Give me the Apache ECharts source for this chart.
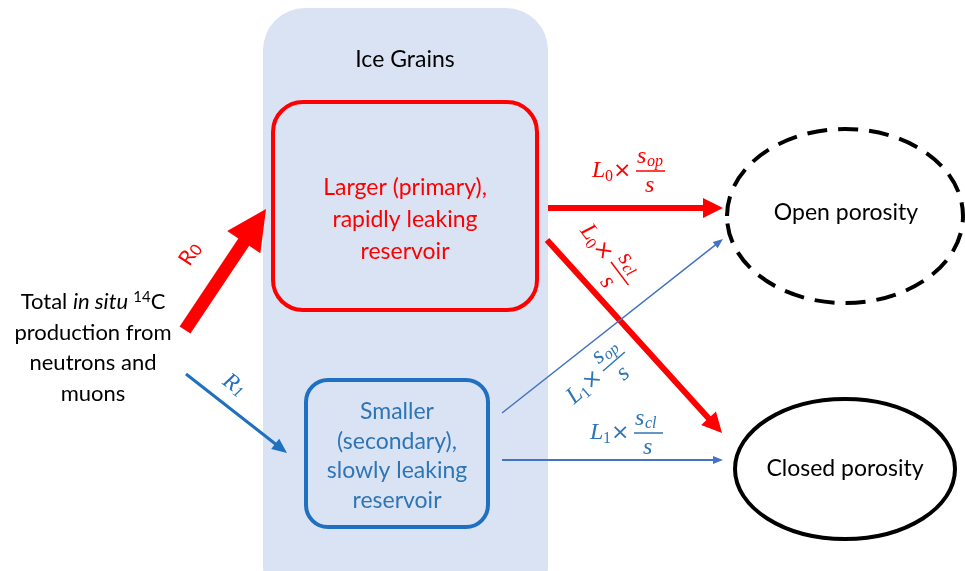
<!DOCTYPE html>
<html><head><meta charset="utf-8">
<script src="https://cdn.jsdelivr.net/npm/echarts@6/dist/echarts.min.js"></script>
<style>html,body{margin:0;padding:0;background:#fff}#c{width:965px;height:571px}</style>
</head><body><div id="c"></div>
<script>
// ---- content (text) ----
const grainTitle = 'Ice Grains';
const sourceLines = ['production from', 'neutrons and', 'muons'];
const primaryLines = ['Larger (primary),', 'rapidly leaking', 'reservoir'];
const secondaryLines = ['Smaller', '(secondary),', 'slowly leaking', 'reservoir'];
const sinkNames = ['Open porosity', 'Closed porosity'];
const rateNames = [['R', '0'], ['R', '1']];
const leakL = ['0', '0', '1', '1'];
const leakS = ['op', 'cl', 'op', 'cl'];

// ---- layout (diagram coordinates, y downward) ----
const grainBox = [263, 8, 285, 600, 42];
const primaryBox = [273, 102, 264, 208, 30];
const secondaryBox = [306, 380, 182, 147, 22];
const sinkEllipse = [[845, 216, 118, 87], [845, 469, 110, 70]];
const sourceFirstY = 302, lineStep = 30.5, sourceX = 93;
const arrowFrom = [[185, 330], [186, 374], [548, 208], [547, 240], [502, 413], [502, 460]];
const arrowTo = [[266, 209], [287, 453], [723, 208], [722, 433], [723, 239], [723, 460]];
const arrowShaft = [13, 3, 6, 6, 1.5, 2];
const arrowHeadLen = [40, 15, 20, 20, 10, 10];
const arrowHeadW = [40, 13, 20, 20, 8, 8];
const arrowColor = ['#ff0000', '#1f70c1', '#ff0000', '#ff0000', '#4472c4', '#4472c4'];
const leakPos = [[636, 171, 0], [611, 262, -53], [603, 371, 41], [634, 433, 0]];
const leakColor = ['#ff0000', '#ff0000', '#2e75b6', '#2e75b6'];

const SANS = 'Lato';
const SERIF = 'Liberation Serif';

const chart = echarts.init(document.getElementById('c'));

function arrowPoly(api, i) {
  const s = api.coord(arrowFrom[i]), e = api.coord(arrowTo[i]);
  const dx = e[0] - s[0], dy = e[1] - s[1], L = Math.hypot(dx, dy);
  const ux = dx / L, uy = dy / L, nx = -uy, ny = ux;
  const w = arrowShaft[i] / 2, hw = arrowHeadW[i] / 2, hl = arrowHeadLen[i];
  const bx = e[0] - ux * hl, by = e[1] - uy * hl;
  return {
    type: 'polygon',
    shape: { points: [
      [s[0] + nx * w, s[1] + ny * w], [bx + nx * w, by + ny * w], [bx + nx * hw, by + ny * hw],
      [e[0], e[1]], [bx - nx * hw, by - ny * hw], [bx - nx * w, by - ny * w], [s[0] - nx * w, s[1] - ny * w]
    ] },
    style: { fill: arrowColor[i] }
  };
}

function txt(p, text, size, color, extra) {
  return { type: 'text', style: Object.assign({ text: text, x: p[0], y: p[1], fontFamily: SANS, fontSize: size,
    fill: color, align: 'center', verticalAlign: 'middle' }, extra || {}) };
}

function leakFormula(api, i) {
  const p = api.coord([leakPos[i][0], leakPos[i][1]]);
  const c = leakColor[i];
  const it = { fontFamily: SERIF, fontStyle: 'italic', fill: c, verticalAlign: 'middle', align: 'left' };
  return {
    type: 'group', x: p[0], y: p[1], rotation: leakPos[i][2] * Math.PI / 180,
    children: [
      { type: 'text', style: Object.assign({}, it, { text: 'L', x: -44, y: 0, fontSize: 24 }) },
      { type: 'text', style: Object.assign({}, it, { text: leakL[i], x: -31, y: 6, fontSize: 16, fontStyle: 'normal' }) },
      { type: 'text', style: Object.assign({}, it, { text: '×', x: -23, y: 0, fontSize: 22, fontFamily: 'DejaVu Sans', fontStyle: 'normal' }) },
      { type: 'text', style: Object.assign({}, it, { text: 's', x: 1, y: -14, fontSize: 24 }) },
      { type: 'text', style: Object.assign({}, it, { text: leakS[i], x: 11, y: -9, fontSize: 16 }) },
      { type: 'line', shape: { x1: 0, y1: 0, x2: 29, y2: 0 }, style: { stroke: c, lineWidth: 1.5 } },
      { type: 'text', style: Object.assign({}, it, { text: 's', x: 9, y: 15, fontSize: 24 }) }
    ]
  };
}

function renderBack(params, api) {
  const g = api.coord([grainBox[0], grainBox[1]]);
  const gs = api.size([grainBox[2], grainBox[3]]);
  const ch = [{ type: 'rect', shape: { x: g[0], y: g[1], width: gs[0], height: gs[1], r: grainBox[4] }, style: { fill: '#dae3f3' } }];
  [[primaryBox, '#ff0000'], [secondaryBox, '#1f70c1']].forEach(function (b) {
    const p = api.coord([b[0][0], b[0][1]]), s = api.size([b[0][2], b[0][3]]);
    ch.push({ type: 'rect', shape: { x: p[0], y: p[1], width: s[0], height: s[1], r: b[0][4] }, style: { fill: 'none', stroke: b[1], lineWidth: 4 } });
  });
  sinkEllipse.forEach(function (e, k) {
    const p = api.coord([e[0], e[1]]), s = api.size([e[2], e[3]]);
    ch.push({ type: 'ellipse', shape: { cx: p[0], cy: p[1], rx: s[0], ry: s[1] },
      style: { fill: '#fff', stroke: '#000', lineWidth: 4, lineDash: k === 0 ? [20, 11] : null } });
  });
  return { type: 'group', children: ch };
}

function renderArrows(params, api) {
  return { type: 'group', children: arrowFrom.map(function (_, i) { return arrowPoly(api, i); }) };
}

function renderText(params, api) {
  const ch = [];
  ch.push(txt(api.coord([405, 60]), grainTitle, 23, '#000'));
  // source text
  ch.push({ type: 'text', style: { x: api.coord([sourceX, sourceFirstY])[0], y: api.coord([sourceX, sourceFirstY])[1],
    align: 'center', verticalAlign: 'middle', fontFamily: SANS, fontSize: 22, fill: '#000',
    text: '{n|Total }{i|in situ }{s|14}{n|C}',
    rich: { n: { fontFamily: SANS, fontSize: 22, fill: '#000' }, i: { fontFamily: SANS, fontSize: 22, fontStyle: 'italic', fill: '#000' },
      s: { fontFamily: SANS, fontSize: 15, fill: '#000', padding: [0, 0, 10, 0] } } } });
  sourceLines.forEach(function (t, k) { ch.push(txt(api.coord([sourceX, sourceFirstY + lineStep * (k + 1)]), t, 22, '#000')); });
  primaryLines.forEach(function (t, k) { ch.push(txt(api.coord([405, 188 + 32 * k]), t, 23, '#ff0000')); });
  secondaryLines.forEach(function (t, k) { ch.push(txt(api.coord([397, 412 + 29.5 * k]), t, 23, '#2e75b6')); });
  ch.push(txt(api.coord([846, 213]), sinkNames[0], 23, '#000'));
  ch.push(txt(api.coord([845, 469]), sinkNames[1], 23, '#000'));
  // rate labels
  const r0 = api.coord([190, 254]);
  ch.push({ type: 'text', x: r0[0], y: r0[1], rotation: 57 * Math.PI / 180,
    style: { x: 0, y: 0, align: 'center', verticalAlign: 'middle', text: '{a|' + rateNames[0][0] + '}{b|' + rateNames[0][1] + '}',
      rich: { a: { fontFamily: SANS, fontSize: 21, fill: '#ff0000' }, b: { fontFamily: SANS, fontSize: 16, fill: '#ff0000', padding: [6, 0, 0, 0] } } } });
  const r1 = api.coord([234, 385]);
  ch.push({ type: 'text', x: r1[0], y: r1[1], rotation: -36 * Math.PI / 180,
    style: { x: 0, y: 0, align: 'center', verticalAlign: 'middle', text: '{a|' + rateNames[1][0] + '}{b|' + rateNames[1][1] + '}',
      rich: { a: { fontFamily: SERIF, fontStyle: 'italic', fontSize: 23, fill: '#1f70c1' }, b: { fontFamily: SERIF, fontStyle: 'italic', fontSize: 16, fill: '#1f70c1', padding: [8, 0, 0, 0] } } } });
  leakPos.forEach(function (_, i) { ch.push(leakFormula(api, i)); });
  return { type: 'group', children: ch };
}

chart.setOption({
  animation: false,
  grid: { left: 0, right: 0, top: 0, bottom: 0 },
  xAxis: { type: 'value', min: 0, max: 965, show: false },
  yAxis: { type: 'value', min: 0, max: 571, inverse: true, show: false },
  series: [
    { type: 'custom', z: 1, silent: true, clip: false, data: [0], renderItem: renderBack },
    { type: 'custom', z: 2, silent: true, clip: false, data: [0], renderItem: renderArrows },
    { type: 'custom', z: 3, silent: true, clip: false, data: [0], renderItem: renderText }
  ]
});
</script></body></html>
